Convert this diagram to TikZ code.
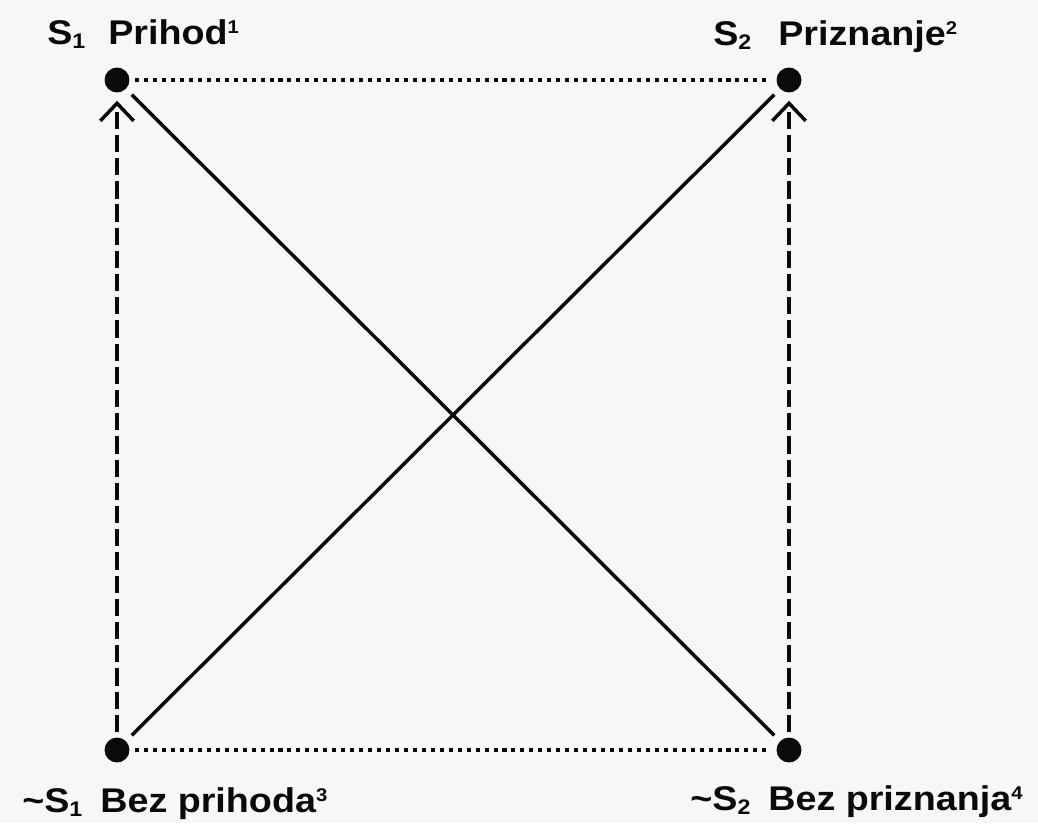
\documentclass[tikz,border=0pt]{standalone}
\usepackage{fontspec}
\setmainfont{Liberation Sans}[FakeStretch=1.1]
\usetikzlibrary{arrows.meta}
\definecolor{bg}{HTML}{F7F7F7}
\definecolor{ink}{HTML}{0A0A0A}
\newcommand{\supnum}[1]{\raisebox{6.2pt}{\fontsize{10.5pt}{10.5pt}\selectfont #1}}
\newcommand{\subnum}[1]{\raisebox{-2.4pt}{\fontsize{12pt}{12pt}\selectfont #1}}
\begin{document}
\begin{tikzpicture}[x=0.02cm,y=-0.02cm,
  dot/.style={circle,fill=ink,inner sep=0pt,minimum size=14.2pt},
  lbl/.style={anchor=base west,inner sep=0pt,text=ink,font=\fontsize{19.5pt}{22pt}\selectfont\bfseries},
  solidline/.style={draw=ink,line width=2pt,shorten <=4.5pt,shorten >=4.5pt},
  dottedline/.style={draw=ink,line width=2.3pt,dash pattern=on 2.3pt off 2.8pt,shorten <=3pt,shorten >=3pt},
  dashedline/.style={draw=ink,line width=2pt,dash pattern=on 9.8pt off 3.4pt,shorten <=3pt,shorten >=4.5pt,
    -{Straight Barb[length=10pt,width=19pt,line width=2pt]}}
]
\fill[bg] (0,0) rectangle (1038,823);
\useasboundingbox (0,0) rectangle (1038,823);
\node[dot] (tl) at (117,80) {};
\node[dot] (tr) at (789,80) {};
\node[dot] (bl) at (117,750) {};
\node[dot] (br) at (789,750) {};
\draw[dottedline] (tl) -- (tr);
\draw[dottedline] (bl) -- (br);
\draw[dashedline] (bl) -- (tl);
\draw[dashedline] (br) -- (tr);
\draw[solidline] (tl) -- (br);
\draw[solidline] (bl) -- (tr);
\node[lbl] (s1) at (47,44) {S\subnum{1}};
\node[lbl] (l1) at (108,44) {Prihod\supnum{1}};
\node[lbl] (s2) at (713,45) {S\subnum{2}};
\node[lbl] (l2) at (778,45) {Priznanje\supnum{2}};
\node[lbl] (s3) at (22,812) {\textasciitilde S\subnum{1}};
\node[lbl] (l3) at (100,812) {Bez prihoda\supnum{3}};
\node[lbl] (s4) at (690,810) {\textasciitilde S\subnum{2}};
\node[lbl] (l4) at (768,810) {Bez priznanja\supnum{4}};
\end{tikzpicture}
\end{document}
